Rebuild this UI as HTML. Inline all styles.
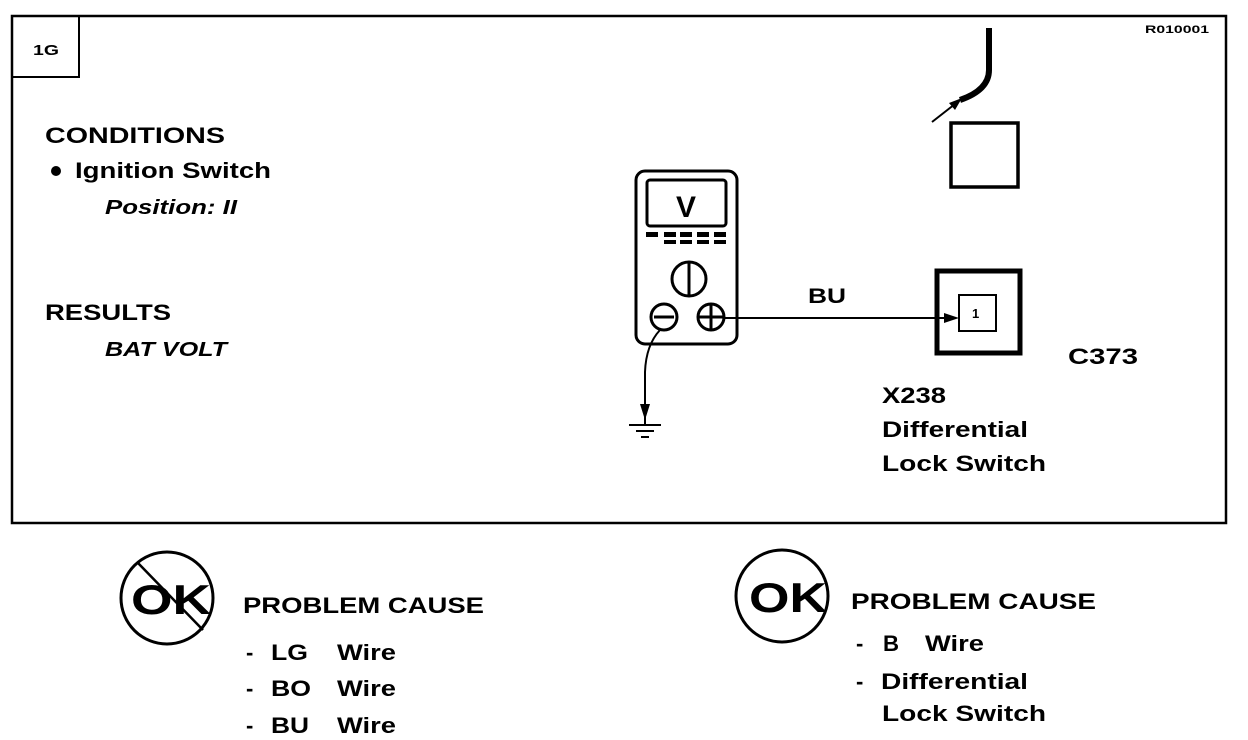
<!DOCTYPE html>
<html><head><style>
html,body{margin:0;padding:0;background:#fff;}
svg{display:block;}
text{font-family:"Liberation Sans",sans-serif;font-weight:bold;fill:#000;}
</style></head><body>
<svg width="1248" height="740" viewBox="0 0 1248 740" xmlns="http://www.w3.org/2000/svg">
<rect x="12" y="16" width="1214" height="507" fill="none" stroke="#000" stroke-width="2.5"/>
<path d="M12 77 H79 V16" fill="none" stroke="#000" stroke-width="2"/>
<text x="33" y="55" font-size="15" textLength="26" lengthAdjust="spacingAndGlyphs">1G</text>
<text x="1145" y="33" font-size="11" textLength="64" lengthAdjust="spacingAndGlyphs">R010001</text>

<text x="45" y="143" font-size="22" textLength="180" lengthAdjust="spacingAndGlyphs">CONDITIONS</text>
<circle cx="56" cy="171" r="5"/>
<text x="75" y="178" font-size="22" textLength="196" lengthAdjust="spacingAndGlyphs">Ignition Switch</text>
<text x="105" y="214" font-size="20" font-style="italic" font-weight="normal" textLength="132" lengthAdjust="spacingAndGlyphs">Position: II</text>
<text x="45" y="320" font-size="22" textLength="126" lengthAdjust="spacingAndGlyphs">RESULTS</text>
<text x="105" y="356" font-size="20" font-style="italic" font-weight="normal" textLength="122" lengthAdjust="spacingAndGlyphs">BAT VOLT</text>

<!-- meter -->
<rect x="636" y="171" width="101" height="173" rx="9" fill="none" stroke="#000" stroke-width="3"/>
<rect x="647" y="180" width="79" height="46" rx="3" fill="none" stroke="#000" stroke-width="3"/>
<text x="676" y="217" font-size="30">V</text>
<g fill="#000">
<rect x="646" y="232" width="12" height="5"/><rect x="664" y="232" width="12" height="5"/><rect x="680" y="232" width="12" height="5"/><rect x="697" y="232" width="12" height="5"/><rect x="714" y="232" width="12" height="5"/>
<rect x="664" y="240" width="12" height="4"/><rect x="680" y="240" width="12" height="4"/><rect x="697" y="240" width="12" height="4"/><rect x="714" y="240" width="12" height="4"/>
</g>
<circle cx="689" cy="279" r="17" fill="none" stroke="#000" stroke-width="3"/>
<line x1="689" y1="262" x2="689" y2="296" stroke="#000" stroke-width="3"/>
<circle cx="664" cy="317" r="13" fill="none" stroke="#000" stroke-width="3"/>
<line x1="654" y1="317" x2="674" y2="317" stroke="#000" stroke-width="3"/>
<circle cx="711" cy="317" r="13" fill="none" stroke="#000" stroke-width="3"/>
<line x1="698" y1="317" x2="724" y2="317" stroke="#000" stroke-width="3"/>
<line x1="711" y1="304" x2="711" y2="330" stroke="#000" stroke-width="3"/>

<line x1="724" y1="318" x2="950" y2="318" stroke="#000" stroke-width="2"/>
<polygon points="959,318 944,313 944,323" fill="#000"/>
<text x="808" y="303" font-size="21" textLength="38" lengthAdjust="spacingAndGlyphs">BU</text>

<rect x="937" y="271" width="83" height="82" fill="none" stroke="#000" stroke-width="5"/>
<rect x="959" y="295" width="37" height="36" fill="none" stroke="#000" stroke-width="2"/>
<text x="972" y="318" font-size="13" font-weight="normal">1</text>

<rect x="951" y="123" width="67" height="64" fill="none" stroke="#000" stroke-width="3.5"/>
<path d="M989 28 V70 Q989 90 960 100" fill="none" stroke="#000" stroke-width="6"/>
<line x1="932" y1="122" x2="955" y2="104" stroke="#000" stroke-width="2"/>
<polygon points="962,98 949,103 955,110" fill="#000"/>

<!-- ground -->
<path d="M660 330 Q646 345 645 372 V425" fill="none" stroke="#000" stroke-width="2"/>
<polygon points="645,420 640,404 650,404" fill="#000"/>
<line x1="629" y1="425" x2="661" y2="425" stroke="#000" stroke-width="2"/>
<line x1="636" y1="431" x2="654" y2="431" stroke="#000" stroke-width="2"/>
<line x1="641" y1="437" x2="649" y2="437" stroke="#000" stroke-width="2"/>

<text x="1068" y="364" font-size="22" textLength="70" lengthAdjust="spacingAndGlyphs">C373</text>
<text x="882" y="403" font-size="22" textLength="64" lengthAdjust="spacingAndGlyphs">X238</text>
<text x="882" y="437" font-size="22" textLength="146" lengthAdjust="spacingAndGlyphs">Differential</text>
<text x="882" y="471" font-size="22" textLength="164" lengthAdjust="spacingAndGlyphs">Lock Switch</text>

<!-- bottom left -->
<circle cx="167" cy="598" r="46" fill="none" stroke="#000" stroke-width="3"/>
<text x="131" y="614" font-size="42" textLength="80" lengthAdjust="spacingAndGlyphs">OK</text>
<line x1="138" y1="563" x2="203" y2="630" stroke="#000" stroke-width="2.5"/>
<text x="243" y="613" font-size="22" textLength="241" lengthAdjust="spacingAndGlyphs">PROBLEM CAUSE</text>
<text x="246" y="660" font-size="22">-</text>
<text x="271" y="660" font-size="22" textLength="37" lengthAdjust="spacingAndGlyphs">LG</text>
<text x="337" y="660" font-size="22" textLength="59" lengthAdjust="spacingAndGlyphs">Wire</text>
<text x="246" y="696" font-size="22">-</text>
<text x="271" y="696" font-size="22" textLength="40" lengthAdjust="spacingAndGlyphs">BO</text>
<text x="337" y="696" font-size="22" textLength="59" lengthAdjust="spacingAndGlyphs">Wire</text>
<text x="246" y="733" font-size="22">-</text>
<text x="271" y="733" font-size="22" textLength="38" lengthAdjust="spacingAndGlyphs">BU</text>
<text x="337" y="733" font-size="22" textLength="59" lengthAdjust="spacingAndGlyphs">Wire</text>

<!-- bottom right -->
<circle cx="782" cy="596" r="46" fill="none" stroke="#000" stroke-width="3"/>
<text x="749" y="612" font-size="42" textLength="78" lengthAdjust="spacingAndGlyphs">OK</text>
<text x="851" y="609" font-size="22" textLength="245" lengthAdjust="spacingAndGlyphs">PROBLEM CAUSE</text>
<text x="856" y="651" font-size="22">-</text>
<text x="883" y="651" font-size="22" textLength="16" lengthAdjust="spacingAndGlyphs">B</text>
<text x="925" y="651" font-size="22" textLength="59" lengthAdjust="spacingAndGlyphs">Wire</text>
<text x="856" y="689" font-size="22">-</text>
<text x="881" y="689" font-size="22" textLength="147" lengthAdjust="spacingAndGlyphs">Differential</text>
<text x="882" y="721" font-size="22" textLength="164" lengthAdjust="spacingAndGlyphs">Lock Switch</text>
</svg>
</body></html>
